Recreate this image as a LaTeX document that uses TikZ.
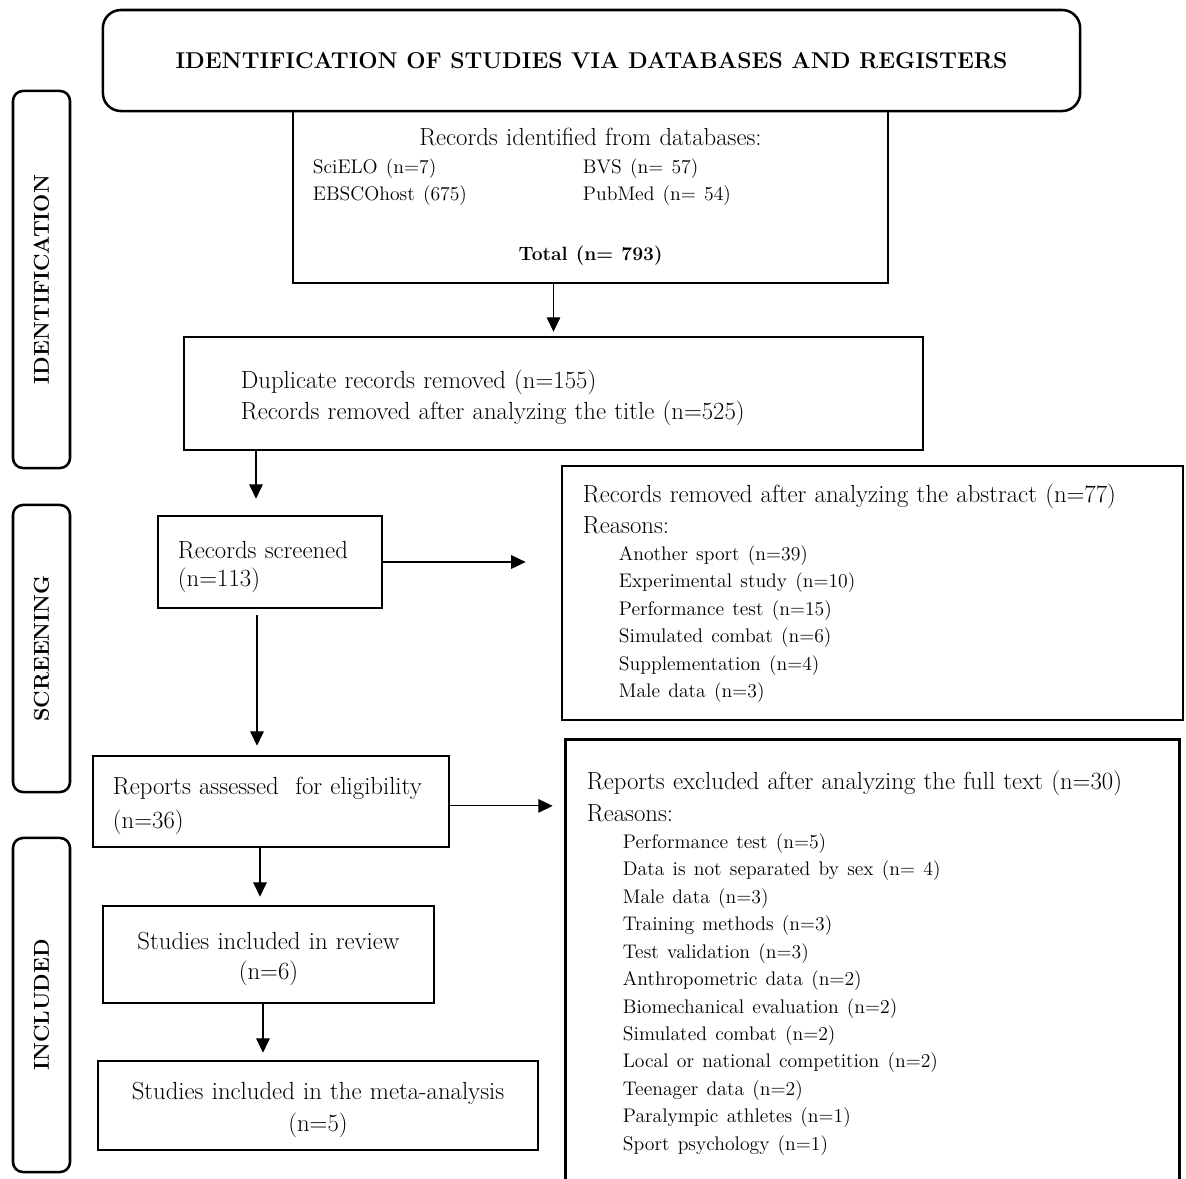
\documentclass[tikz,border=0pt]{standalone}
\usepackage{tikz}
\usetikzlibrary{arrows.meta,positioning}
\newcommand{\boxfont}{\fontsize{17.6}{19.5}\selectfont}
\newcommand{\listfont}{\fontsize{14}{19.5}\selectfont}
\newcommand{\headfont}{\fontsize{16.25}{19}\selectfont\bfseries}
\newcommand{\sidefont}{\fontsize{15.3}{18}\selectfont\bfseries}
\newcommand{\boxline}{1.8pt}
\newcommand{\arrline}{0.8pt}
\newcommand{\topgap}{\rule{0pt}{18.8pt}}
\newcommand{\reason}[1]{\hspace*{0.9cm}{\listfont #1}}
\newcommand{\dbline}[2]{\makebox[13.875cm][l]{\listfont\makebox[6.75cm][l]{#1}#2}}

\begin{document}
\begin{tikzpicture}[x=0.025cm,y=-0.025cm]

%% styles
\tikzstyle{box}=[draw,line width=\boxline,inner ysep=0pt,font=\boxfont]
\tikzstyle{leftbox}=[box,align=left,inner xsep=0.5cm]
\tikzstyle{sidebox}=[draw,line width=\boxline,rounded corners=0.25cm,minimum width=1.425cm,inner sep=0pt]
\tikzstyle{arr}=[line width=\arrline,-{Triangle[length=0.36cm,width=0.34cm]}]

\useasboundingbox (0,0) rectangle (1186,1179);

%% title and phase labels
\node (title) [box,rounded corners=0.45cm,font=\headfont,minimum width=24.425cm,minimum height=2.525cm] at (591.5,60.5)
  {IDENTIFICATION OF STUDIES VIA DATABASES AND REGISTERS};
\node (sideid)  [sidebox,minimum height=9.425cm] at (41.5,279.5) {\rotatebox{90}{\sidefont IDENTIFICATION}};
\node (sidescr) [sidebox,minimum height=7.175cm] at (41.5,648.5) {\rotatebox{90}{\sidefont SCREENING}};
\node (sideinc) [sidebox,minimum height=8.35cm]  at (41.5,1005)  {\rotatebox{90}{\sidefont INCLUDED}};

%% identification
\node (ident) [box,align=center,text width=14cm,minimum width=14.875cm,minimum height=4.3cm] at (590.5,197)
  {Records identified from databases:\\
   \dbline{SciELO (n=7)}{BVS (n= 57)}\\
   \dbline{EBSCOhost (675)}{PubMed (n= 54)}\\[23pt]
   {\fontsize{13.7}{19.5}\selectfont\bfseries Total (n= 793)}};

\node (dup) [leftbox,inner xsep=1.425cm,text width=15.625cm,minimum width=18.475cm,minimum height=2.825cm] at (553.5,393.5)
  {\topgap Duplicate records removed (n=155)\\[2.5pt]
   Records removed after analyzing the title (n=525)};

%% screening
\node (scr) [leftbox,text width=4.6cm,minimum width=5.6cm,minimum height=2.3cm] at (270,562)
  {\topgap Records screened\\[0.5pt] (n=113)};

\node (abs) [leftbox,inner xsep=0.525cm,text width=14.475cm,minimum width=15.525cm,minimum height=6.35cm] at (872.5,593)
  {Records removed after analyzing the abstract (n=77)\\[2.5pt]
   Reasons:\\
   \reason{Another sport (n=39)}\\
   \reason{Experimental study (n=10)}\\
   \reason{Performance test (n=15)}\\
   \reason{Simulated combat (n=6)}\\
   \reason{Supplementation (n=4)}\\
   \reason{Male data (n=3)}};

\node (rep) [leftbox,text width=7.9cm,minimum width=8.9cm,minimum height=2.275cm] at (271,801.5)
  {\topgap Reports assessed\ \ for eligibility\\[4.5pt] (n=36)};

%% open box, runs off the bottom edge
\node (exc) [leftbox,draw=none,text width=14.275cm,minimum width=15.275cm,minimum height=11.1cm] at (872.5,963)
  {Reports excluded after analyzing the full text (n=30)\\[3pt]
   Reasons:\\
   \reason{Performance test (n=5)}\\
   \reason{Data is not separated by sex (n= 4)}\\
   \reason{Male data (n=3)}\\
   \reason{Training methods (n=3)}\\
   \reason{Test validation (n=3)}\\
   \reason{Anthropometric data (n=2)}\\
   \reason{Biomechanical evaluation (n=2)}\\
   \reason{Simulated combat (n=2)}\\
   \reason{Local or national competition (n=2)}\\
   \reason{Teenager data (n=2)}\\
   \reason{Paralympic athletes (n=1)}\\
   \reason{Sport psychology (n=1)}};
\draw[line width=\boxline] (exc.south west) -- (exc.north west) -- (exc.north east) -- (exc.south east);

%% included
\node (rev) [box,align=center,text width=7.5cm,minimum width=8.275cm,minimum height=2.425cm] at (268.5,954.5)
  {\topgap Studies included in review\\[1.5pt] (n=6)};
\node (meta) [box,align=center,text width=10.5cm,minimum width=11cm,minimum height=2.225cm] at (318,1105.5)
  {\topgap Studies included in the meta-analysis\\[3pt] (n=5)};

%% connectors
\coordinate (scrin)  at ([xshift=-0.35cm]scr.north);
\coordinate (repin)  at ([xshift=-0.35cm]rep.north);
\coordinate (revin)  at ([xshift=-0.2125cm]rev.north);
\coordinate (revout) at ([xshift=-0.1375cm]rev.south);
\coordinate (repout) at ([yshift=-0.11cm]rep.east);

\draw[arr,shorten >=0.1cm] (dup.north |- ident.south) -- (dup.north);
\draw[arr,shorten >=0.4cm] (scrin |- dup.south) -- (scrin);
\draw[arr,shorten >=0.875cm] (scr.east) -- (scr.east -| abs.west);
\draw[arr,shorten <=0.15cm,shorten >=0.225cm] (repin |- scr.south) -- (repin);
\draw[arr,shorten >=0.325cm] (repout) -- (repout -| exc.west);
\draw[arr,shorten >=0.2cm] (revin |- rep.south) -- (revin);
\draw[arr,shorten >=0.175cm] (revout) -- (revout |- meta.north);

\end{tikzpicture}
\end{document}
